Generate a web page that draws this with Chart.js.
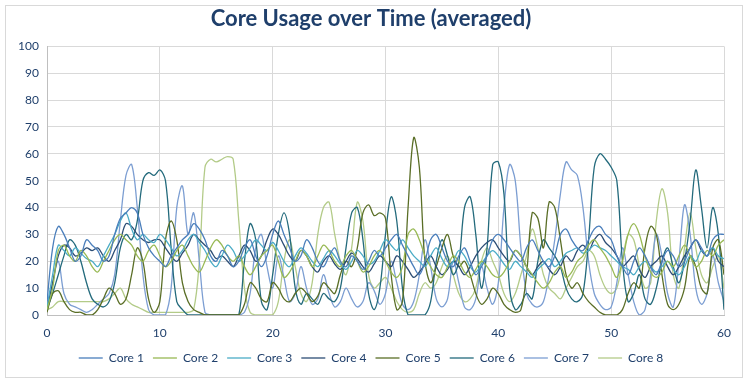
<!DOCTYPE html>
<html>
<head>
<meta charset="utf-8">
<script src="https://cdn.jsdelivr.net/npm/chart.js"></script>
<style>
  body { margin: 0; background: #fff; }
  #caja { position: absolute; left: 5px; top: 5px; width: 736px; height: 371px; border: 1px solid #D9D9D9; }
</style>
</head>
<body>
<div id="caja"><canvas id="grafico"></canvas></div>
<script>
// valores cada 0.5 (de 0 a 60)
const core1 = [5,25,33,30,25,20,22,28,26,24,20,22,30,36,38,40,38,30,25,22,
  20,18,22,25,28,30,34,32,28,22,20,24,22,18,20,25,28,22,18,22,
  30,35,30,25,20,22,28,25,20,18,22,25,20,18,22,20,17,20,24,22,
  25,28,30,26,22,18,15,20,28,30,25,20,18,22,25,20,15,18,22,28,
  30,28,25,22,20,25,28,24,20,18,22,30,32,28,25,24,28,32,33,30,
  28,22,18,15,20,25,22,18,15,20,24,22,18,20,25,28,25,22,28,30,30]
const core2 = [2,10,24,26,22,20,24,22,18,16,20,24,28,30,28,26,22,20,24,26,
  22,18,20,24,26,22,18,16,20,25,28,26,22,20,22,18,15,18,22,24,
  26,20,14,16,20,24,22,18,22,26,24,20,18,22,24,20,16,18,22,24,
  20,16,14,18,30,32,28,22,18,15,14,18,22,20,16,14,17,20,18,15,
  14,16,20,24,22,18,15,12,10,12,16,18,14,16,20,22,26,28,25,22,
  18,14,20,30,34,30,22,16,14,16,20,18,22,26,22,18,20,24,22,26,28]
const core3 = [3,15,26,24,22,25,23,21,20,18,22,26,30,35,38,32,28,30,28,27,
  30,28,25,22,24,28,30,27,24,20,18,22,26,24,20,22,25,28,26,24,
  27,24,20,18,22,25,23,20,18,21,24,22,19,17,20,24,22,19,20,24,
  28,26,24,28,25,22,20,18,22,25,21,18,20,24,22,18,16,19,22,24,
  22,19,17,20,18,16,14,17,19,21,18,20,23,24,25,23,24,26,25,24,
  22,20,18,17,15,18,20,18,16,18,20,17,15,18,22,20,24,22,25,22,21]
const core4 = [2,12,22,26,25,22,23,25,24,25,22,20,24,28,34,33,30,28,27,28,
  28,25,22,20,23,26,30,28,26,24,21,22,20,18,22,26,24,20,22,28,
  32,30,26,22,20,24,22,18,16,20,22,19,17,20,23,21,18,16,19,22,
  20,18,22,20,17,14,16,19,22,18,15,17,20,18,15,18,22,25,27,28,
  25,22,20,24,22,18,15,18,20,17,15,18,22,20,24,26,24,28,30,27,
  25,22,18,20,22,17,14,18,20,22,18,15,18,22,25,28,24,22,25,20,18]
const core5 = [1,8,9,5,2,1,1,0,0,2,6,10,8,4,6,15,25,20,6,1,
  5,28,35,28,12,5,2,1,0,0,0,0,0,0,0,4,12,10,6,5,
  12,10,6,5,8,10,8,5,7,12,10,8,15,20,18,25,38,41,37,38,
  36,15,2,5,40,66,55,20,12,18,25,30,22,18,20,15,8,4,6,10,
  8,4,2,1,2,15,38,36,25,42,40,28,15,10,12,8,5,3,1,0,
  0,0,2,8,12,10,25,33,30,15,4,2,4,10,22,18,10,8,25,28,15]
const core6 = [2,8,15,22,28,26,20,12,6,4,3,5,12,25,30,28,35,50,53,52,
  54,50,25,5,2,0,0,0,0,0,0,0,0,0,0,20,34,28,5,2,
  15,30,38,30,10,4,8,6,4,8,6,5,10,25,38,40,28,8,2,10,
  30,44,35,10,0,0,0,0,5,20,28,22,15,20,40,44,30,10,25,56,
  57,45,10,2,4,8,6,20,28,25,22,18,10,6,5,8,28,55,60,58,
  55,50,20,5,8,15,6,4,10,20,25,18,12,20,35,54,40,25,40,30,2]
const core7 = [2,12,20,8,4,3,2,1,2,4,6,8,15,35,52,56,40,15,2,0,
  0,0,10,40,48,30,38,20,1,0,0,0,0,0,0,1,8,25,30,18,
  10,22,14,5,8,18,10,4,6,15,8,3,5,10,6,3,5,12,9,4,
  8,20,12,4,2,5,15,28,18,6,3,6,20,12,3,2,6,18,10,4,
  12,40,56,50,25,8,4,3,5,15,28,45,57,54,52,40,20,8,4,2,
  3,12,25,15,5,0,2,15,30,22,8,3,20,41,30,10,4,8,22,12,5]
const core8 = [2,3,5,5,5,5,5,5,5,5,5,6,8,10,6,4,3,2,1,1,
  1,1,1,1,1,1,2,20,55,58,57,58,59,58,35,10,1,0,0,0,
  0,5,20,28,18,8,5,12,30,40,42,30,20,15,25,42,35,15,10,12,
  14,10,5,2,1,2,8,12,10,12,18,22,15,8,5,6,10,20,25,20,
  15,8,5,8,15,22,32,25,15,10,8,6,10,14,18,20,24,22,15,10,
  8,10,20,30,28,18,10,12,35,47,38,15,10,25,38,25,15,12,18,22,10]

const nombres = ['Core 1','Core 2','Core 3','Core 4','Core 5','Core 6','Core 7','Core 8']
const series = [core1, core2, core3, core4, core5, core6, core7, core8]
const colores = ['#4A7EBB','#98B954','#4BACC6','#2C4D75','#5A6E26','#236A7C','#7C9ED2','#B3CB88']

const tiempos = core1.map((v, i) => i * 0.5)

let datasets = series.map((valores, i) => ({
  label: nombres[i],
  data: valores.map((v, j) => ({ x: tiempos[j], y: v })),
  borderColor: colores[i],
  backgroundColor: colores[i],
  borderWidth: 1.3,
  pointRadius: 0,
  tension: 0.35,
  fill: false
}))

const azul = '#1F3F6B'
Chart.defaults.font.family = 'Lato, "Open Sans", sans-serif'

const ctx = document.getElementById('grafico')
new Chart(ctx, {
  type: 'line',
  data: { datasets: datasets },
  options: {
    responsive: true,
    maintainAspectRatio: false,
    animation: false,
    layout: { padding: { left: 12, right: 18, top: 0, bottom: 3 } },
    plugins: {
      title: {
        display: true,
        text: 'Core Usage over Time (averaged)',
        color: azul,
        font: { size: 22, weight: 'bold' },
        padding: { top: 0, bottom: 14 }
      },
      legend: {
        position: 'bottom',
        labels: {
          usePointStyle: true,
          pointStyle: 'line',
          pointStyleWidth: 24,
          color: azul,
          font: { size: 12 },
          padding: 9
        }
      },
      tooltip: { enabled: false }
    },
    scales: {
      x: {
        type: 'linear',
        min: 0,
        max: 60,
        ticks: { stepSize: 10, color: azul, font: { size: 12 }, padding: 11 },
        grid: { color: '#D9D9D9', drawTicks: false },
        border: { color: '#BFBFBF' },
        afterFit: (escala) => { escala.height = 28 }
      },
      y: {
        min: 0,
        max: 100,
        ticks: { stepSize: 10, color: azul, font: { size: 12 }, padding: 8 },
        grid: { color: '#D9D9D9', drawTicks: false },
        border: { color: '#BFBFBF' },
        afterFit: (escala) => { escala.width = 29 }
      }
    }
  }
})
</script>
</body>
</html>
